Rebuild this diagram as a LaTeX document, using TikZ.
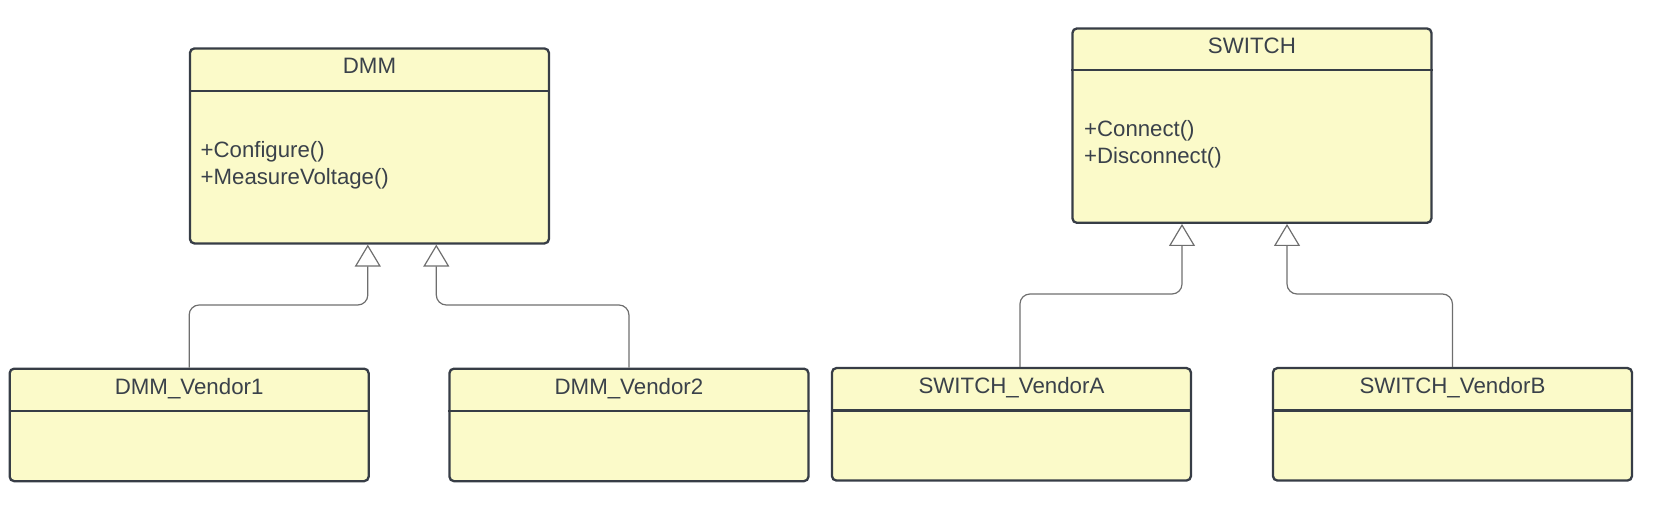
\documentclass[tikz,border=0pt]{standalone}
\usepackage{fontspec}
\setmainfont{Liberation Sans}
\usetikzlibrary{arrows.meta}
\definecolor{clsfill}{HTML}{FBFAC9}
\definecolor{clsline}{HTML}{373D46}
\definecolor{txt}{HTML}{3A414A}
\definecolor{conncol}{HTML}{6E6E6E}
\tikzset{
  clsbox/.style={draw=clsline, fill=clsfill, line width=2.3pt, rounded corners=4.5pt,
    rectangle, inner sep=0pt, minimum width=359pt, anchor=north west},
  bigbox/.style={clsbox, minimum height=195pt},
  smallbox/.style={clsbox, minimum height=112.5pt},
  sepline/.style={draw=clsline, line width=2.3pt},
  ttl/.style={text=txt, font=\fontsize{22.3}{26}\selectfont, inner sep=0pt, anchor=base},
  meth/.style={text=txt, font=\fontsize{22.2}{26}\selectfont, inner sep=0pt, anchor=base west},
  conn/.style={draw=conncol, line width=1.2pt, rounded corners=10pt,
    -{Triangle[open, length=22pt, width=26pt, line width=1.2pt]}}
}
\begin{document}
\begin{tikzpicture}[x=1pt, y=-1pt]
\useasboundingbox (0,0) rectangle (1653,521);

% DMM
\node[bigbox] (dmm) at (188.8,47.3) {};
\draw[sepline] ([yshift=-43.7pt]dmm.north west) -- ([yshift=-43.7pt]dmm.north east);
\node[ttl] (dmmT) at ([yshift=-26.7pt]dmm.north) {DMM};
\node[meth] (dmmM1) at (200.5,157.7) {+Configure()};
\node[meth] (dmmM2) at (200.5,185) {+MeasureVoltage()};

% SWITCH
\node[bigbox, minimum height=194.4pt] (sw) at (1071.3,27.3) {};
\draw[sepline] ([yshift=-42.4pt]sw.north west) -- ([yshift=-42.4pt]sw.north east);
\node[ttl] (swT) at ([yshift=-26.4pt]sw.north) {SWITCH};
\node[meth] (swM1) at (1084,136.7) {+Connect()};
\node[meth] (swM2) at (1084,164) {+Disconnect()};

% Vendors
\node[smallbox] (v1) at (8.5,367.5) {};
\node[smallbox] (v2) at (448.3,367.5) {};
\node[smallbox] (va) at (830.8,366.9) {};
\node[smallbox] (vb) at (1271.8,366.9) {};
\foreach \n in {v1,v2,va,vb}{
  \draw[sepline] ([yshift=-43.5pt]\n.north west) -- ([yshift=-43.5pt]\n.north east);
}
\node[ttl] (v1T) at ([yshift=-26.7pt]v1.north) {DMM\_Vendor1};
\node[ttl] (v2T) at ([yshift=-26.7pt]v2.north) {DMM\_Vendor2};
\node[ttl] (vaT) at ([yshift=-26.9pt]va.north) {SWITCH\_VendorA};
\node[ttl] (vbT) at ([yshift=-26.9pt]vb.north) {SWITCH\_VendorB};

% connectors
\coordinate (m1) at (367.8,305);
\coordinate (m2) at (436.3,305);
\coordinate (ma) at (1182,294);
\coordinate (mb) at (1287,294);
\draw[conn] (v1.north) -- (v1.north |- m1) -- (m1) -- (dmm.south -| m1);
\draw[conn] (v2.north) -- (v2.north |- m2) -- (m2) -- (dmm.south -| m2);
\draw[conn] ([xshift=8.5pt]va.north) -- ([xshift=8.5pt]va.north |- ma) -- (ma) -- (sw.south -| ma);
\draw[conn] (vb.north) -- (vb.north |- mb) -- (mb) -- (sw.south -| mb);
\end{tikzpicture}
\end{document}
